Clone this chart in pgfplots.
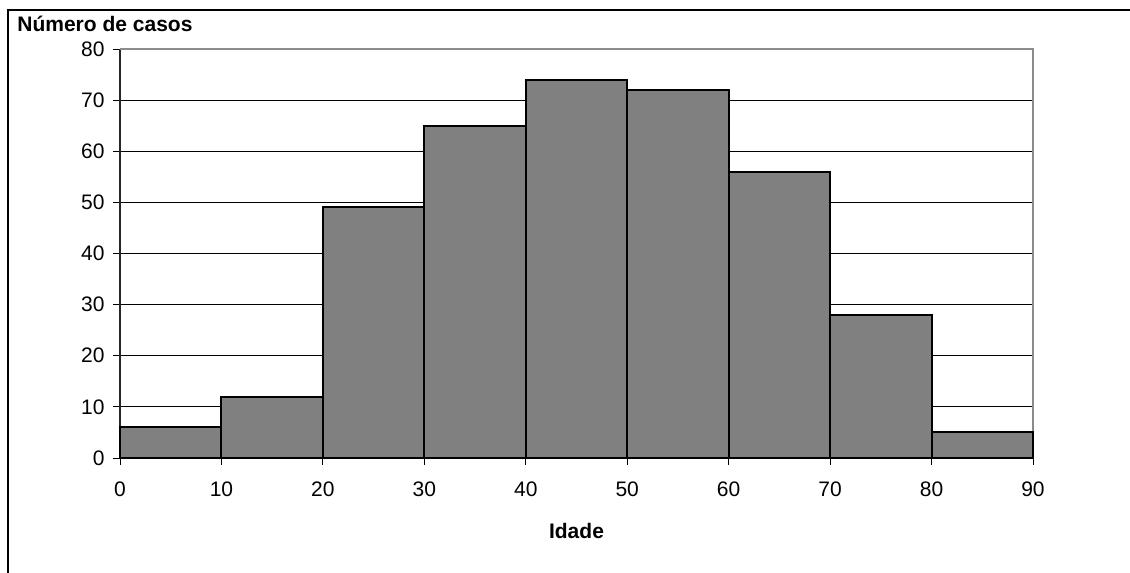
\documentclass[border=0pt]{standalone}
\usepackage{fontspec}
\setmainfont{Liberation Sans}
\usepackage{pgfplots}
\pgfplotsset{compat=1.18}
\definecolor{barfill}{HTML}{808080}
\definecolor{framegray}{HTML}{8C8C8C}

\begin{document}
\fontsize{10.5}{12}\selectfont
\begin{tikzpicture}
  \useasboundingbox (-60pt,-57.5pt) rectangle (505pt,229pt);
  % outer chart frame (only top and left visible)
  \draw[line width=1pt] (505pt,224pt) -- (-56pt,224pt) -- (-56pt,-57.5pt);
  \node[anchor=base west, font=\fontsize{10.5}{12}\selectfont\bfseries, inner sep=0pt]
    at (-51.5pt,213pt) {Número de casos};
  \begin{axis}[
    at={(0,0)}, anchor=south west,
    scale only axis,
    width=456.5pt, height=204.5pt,
    xmin=0, xmax=90, ymin=0, ymax=80,
    xtick={0,10,...,90}, ytick={0,10,...,80},
    axis x line*=bottom, axis y line*=left,
    axis line style={line width=0.8pt, draw=black!85},
    ymajorgrids, major grid style={line width=0.5pt, black},
    tick align=outside, major tick length=3.5pt,
    tick style={line width=0.5pt, black},
    /pgf/number format/assume math mode=true,
    tick label style={font=\fontsize{10.5}{12}\selectfont},
    xticklabel style={anchor=north, inner sep=0pt, yshift=-8pt},
    yticklabel style={anchor=east, inner sep=0pt, xshift=-4pt},
    xlabel={Idade},
    xlabel style={font=\fontsize{10.5}{12}\selectfont\bfseries,
      at={(axis description cs:0.5,0)}, anchor=center, yshift=-36.5pt},
    clip=false,
  ]
    \draw[framegray, line width=0.8pt] (rel axis cs:0,1) -- (rel axis cs:1,1) -- (rel axis cs:1,0);
    \addplot[ybar interval, fill=barfill, draw=black, line width=1pt]
      coordinates {(0,6)(10,12)(20,49)(30,65)(40,74)(50,72)(60,56)(70,28)(80,5)(90,5)};
  \end{axis}
\end{tikzpicture}
\end{document}
